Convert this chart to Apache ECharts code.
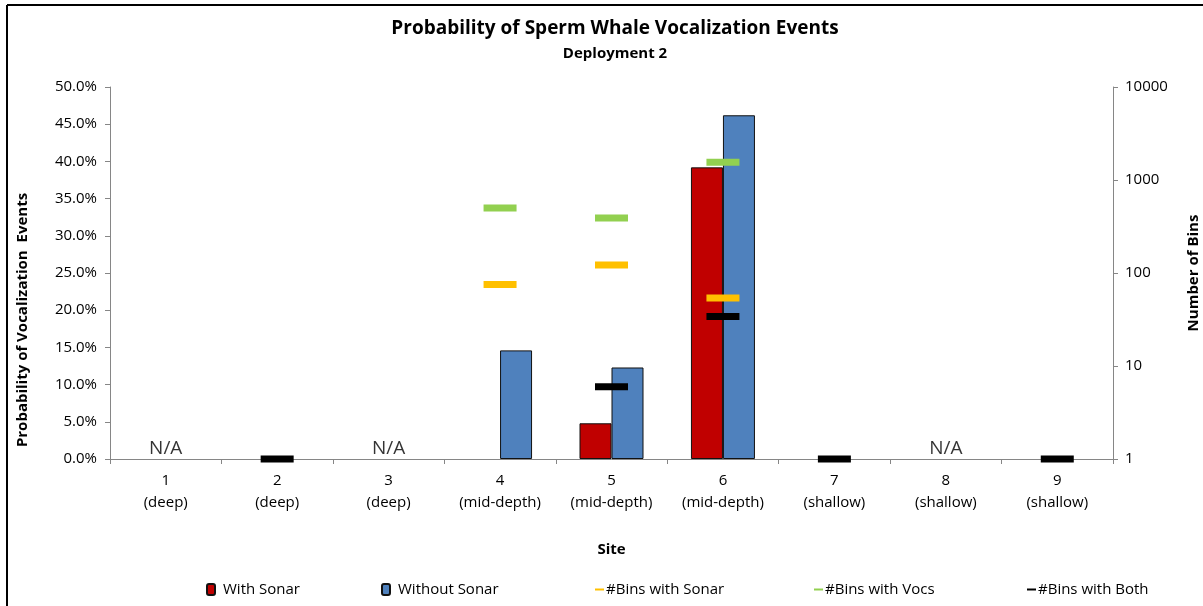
<!DOCTYPE html>
<html>
<head>
<meta charset="utf-8">
<script src="https://cdn.jsdelivr.net/npm/echarts@6/dist/echarts.min.js"></script>
<style>
  html, body { margin: 0; padding: 0; background: #fff; }
  #chart { width: 1203px; height: 606px; }
</style>
</head>
<body>
<div id="chart"></div>
<script>
// Sites along the x axis
const sites = ['1\n(deep)', '2\n(deep)', '3\n(deep)', '4\n(mid-depth)', '5\n(mid-depth)',
               '6\n(mid-depth)', '7\n(shallow)', '8\n(shallow)', '9\n(shallow)'];

// Probability of vocalization events (%), null where no bar
const withSonar    = [null, null, null, null, 4.8, 39.2, null, null, null];
const withoutSonar = [null, null, null, 14.6, 12.3, 46.2, null, null, null];

// Number of bins (log scale), null where no marker
const binsWithSonar = [null, null, null, 75, 122, 54, null, null, null];
const binsWithVocs  = [null, null, null, 500, 390, 1550, null, null, null];
const binsWithBoth  = [null, 1, null, null, 6, 34, 1, null, 1];

// Sites without data
const naSites = [0, 2, 7];

const FONT = '"Open Sans", sans-serif';
const chart = echarts.init(document.getElementById('chart'));

const dash = (name, color, data) => ({
  name, type: 'scatter', yAxisIndex: 1, data,
  symbol: 'rect', symbolSize: [33, 7],
  itemStyle: { color, opacity: 1 }, z: 5
});

const legendItems = [
  { name: 'With Sonar', left: 206, box: true },
  { name: 'Without Sonar', left: 381, box: true },
  { name: '#Bins with Sonar', left: 595, box: false },
  { name: '#Bins with Vocs', left: 814, box: false },
  { name: '#Bins with Both', left: 1027, box: false }
];

chart.setOption({
  animation: false,
  backgroundColor: '#fff',
  textStyle: { fontFamily: FONT },
  title: {
    text: 'Probability of Sperm Whale Vocalization Events',
    subtext: 'Deployment 2',
    left: 610, textAlign: 'center', top: 14, itemGap: 8,
    textStyle: { fontFamily: FONT, fontSize: 19, fontWeight: 'bold', color: '#000' },
    subtextStyle: { fontFamily: FONT, fontSize: 15, fontWeight: 'bold', color: '#000' }
  },
  legend: legendItems.map(l => ({
    data: [l.box ? l.name : { name: l.name, icon: 'rect' }],
    left: l.left, top: 582, padding: 0,
    itemWidth: l.box ? 8 : 9, itemHeight: l.box ? 11 : 2, itemGap: 0,
    textStyle: { fontFamily: FONT, fontSize: 15, color: '#000', padding: [0, 0, 0, l.box ? 3 : -3] }
  })),
  grid: { left: 110, right: 90, top: 87, bottom: 147, outerBoundsMode: 'none' },
  xAxis: {
    type: 'category', data: sites,
    name: 'Site', nameLocation: 'middle', nameGap: 83,
    nameTextStyle: { fontFamily: FONT, fontSize: 15, fontWeight: 'bold', color: '#000' },
    axisLine: { lineStyle: { color: '#868686', width: 1 } },
    axisTick: { show: true, alignWithLabel: false, length: 5, lineStyle: { color: '#868686' } },
    axisLabel: { fontFamily: FONT, fontSize: 15, color: '#000', lineHeight: 22, margin: 11 }
  },
  yAxis: [
    {
      type: 'value', min: 0, max: 50, interval: 5,
      name: 'Probability of Vocalization  Events', nameLocation: 'middle', nameGap: 80,
      nameRotate: 90,
      nameTextStyle: { fontFamily: FONT, fontSize: 15, fontWeight: 'bold', color: '#000', padding: [0, 94, 0, 0] },
      axisLine: { show: true, lineStyle: { color: '#868686' } },
      axisTick: { show: true, length: 5, lineStyle: { color: '#868686' } },
      splitLine: { show: false },
      axisLabel: { fontFamily: FONT, fontSize: 15, color: '#000', margin: 13,
                   formatter: v => v.toFixed(1) + '%' }
    },
    {
      type: 'log', logBase: 10, min: 1, max: 10000,
      name: 'Number of Bins', nameLocation: 'middle', nameGap: 73,
      nameRotate: 90,
      nameTextStyle: { fontFamily: FONT, fontSize: 15, fontWeight: 'bold', color: '#000' },
      axisLine: { show: true, lineStyle: { color: '#868686' } },
      axisTick: { show: true, length: 5, lineStyle: { color: '#868686' } },
      minorTick: { show: false },
      splitLine: { show: false },
      axisLabel: { fontFamily: FONT, fontSize: 15, color: '#000', margin: 12,
                   formatter: v => String(Math.round(v)) }
    }
  ],
  series: [
    {
      name: 'With Sonar', type: 'bar', data: withSonar,
      barWidth: 32, barGap: '0%',
      itemStyle: { color: '#C00000', borderColor: '#111', borderWidth: 1 }
    },
    {
      name: 'Without Sonar', type: 'bar', data: withoutSonar,
      barWidth: 32, barGap: '0%',
      itemStyle: { color: '#4F81BD', borderColor: '#111', borderWidth: 1 }
    },
    dash('#Bins with Sonar', '#FFC000', binsWithSonar),
    dash('#Bins with Vocs', '#92D050', binsWithVocs),
    dash('#Bins with Both', '#000000', binsWithBoth),
    {
      name: 'N/A', type: 'scatter', yAxisIndex: 0,
      data: naSites.map(i => [i, 0]),
      symbolSize: 0, silent: true,
      label: { show: true, position: 'top', distance: 1, formatter: 'N/A',
               fontFamily: FONT, fontSize: 19, color: '#000' }
    }
  ],
  graphic: [
    { type: 'line', shape: { x1: 7, y1: 5, x2: 1203, y2: 5 }, style: { stroke: '#000', lineWidth: 2 } },
    { type: 'line', shape: { x1: 7, y1: 5, x2: 7, y2: 606 }, style: { stroke: '#000', lineWidth: 2 } }
  ]
});
</script>
</body>
</html>
